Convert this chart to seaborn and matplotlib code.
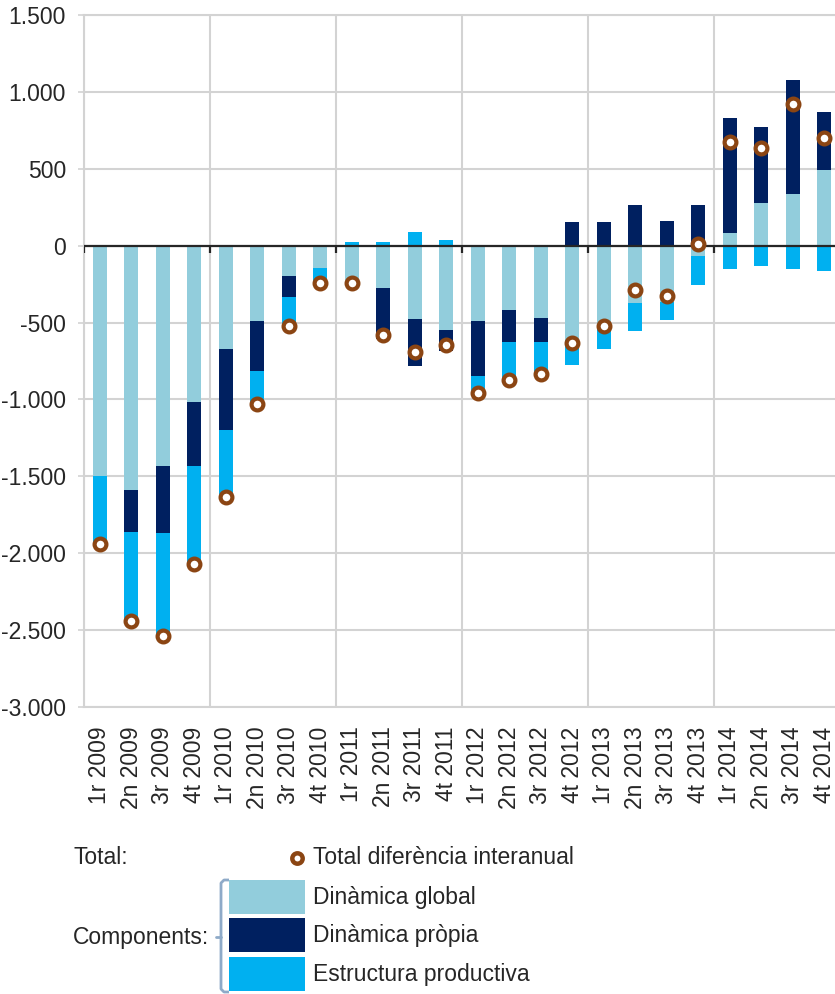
import numpy as np
import pandas as pd
import matplotlib
matplotlib.use("Agg")
import matplotlib.pyplot as plt
from matplotlib.ticker import FuncFormatter, MultipleLocator, FixedLocator
from matplotlib.patches import Rectangle
import seaborn as sns

# Quarter labels (x axis)
quarters = ["1r 2009", "2n 2009", "3r 2009", "4t 2009",
            "1r 2010", "2n 2010", "3r 2010", "4t 2010",
            "1r 2011", "2n 2011", "3r 2011", "4t 2011",
            "1r 2012", "2n 2012", "3r 2012", "4t 2012",
            "1r 2013", "2n 2013", "3r 2013", "4t 2013",
            "1r 2014", "2n 2014", "3r 2014", "4t 2014"]

# Components
dinamica_global = [-1500, -1590, -1430, -1015, -675, -490, -200, -145,
                   -265, -277, -475, -547, -490, -420, -470, -615,
                   -520, -375, -365, -68, 80, 275, 338, 494]
dinamica_propia = [0, -270, -440, -415, -525, -325, -135, 0,
                   0, -330, -305, -140, -355, -205, -155, 155,
                   155, 265, 162, 265, 750, 497, 740, 377]
estructura_productiva = [-437, -580, -670, -640, -435, -215, -190, -95,
                         25, 25, 87, 40, -110, -250, -210, -160,
                         -155, -180, -119, -185, -153, -129, -153, -165]

# Total
total_diferencia = [-1937, -2440, -2540, -2070, -1635, -1030, -525, -240,
                    -240, -582, -693, -647, -955, -874, -835, -630,
                    -520, -290, -330, 12, 674, 638, 919, 700]

series_names = ["Dinàmica global", "Dinàmica pròpia", "Estructura productiva"]
series_colors = ["#92CDDC", "#002060", "#00B0F0"]
total_label = "Total diferència interanual"
total_color = "#8B4513"
grid_color = "#D3D3D3"
text_color = "#262626"
FS = 16.5


def stacked_ends(series_list):
    """Excel-like stacking: positives go up, negatives go down"""
    n = len(series_list[0])
    pos = np.zeros(n)
    neg = np.zeros(n)
    ends = []
    for s in series_list:
        s = np.asarray(s, dtype=float)
        pos = pos + np.where(s > 0, s, 0)
        neg = neg + np.where(s < 0, s, 0)
        ends.append(np.where(s > 0, pos, np.where(s < 0, neg, 0)))
    return ends


sns.set_theme(style="white")
plt.rcParams['font.family'] = ['Liberation Sans', 'DejaVu Sans']

W, H = 835, 994
fig = plt.figure(figsize=(W / 100, H / 100), dpi=100)
ax = fig.add_axes([84 / W, 1 - 707 / H, 756 / W, (707 - 15) / H])

series = [dinamica_global, dinamica_propia, estructura_productiva]
ends = stacked_ends(series)

# draw longest stack first, the later ones paint over the inner segments
for name, color, end in reversed(list(zip(series_names, series_colors, ends))):
    df = pd.DataFrame({"trimestre": quarters, "valor": end})
    sns.barplot(data=df, x="trimestre", y="valor", color=color, saturation=1,
                width=0.43, errorbar=None, linewidth=0, ax=ax, zorder=3)

n = len(quarters)
sns.scatterplot(x=np.arange(n), y=total_diferencia, s=72, color="white",
                edgecolor=total_color, linewidth=3.0, zorder=7, legend=False, ax=ax)

# zero line with small year ticks
year_edges = np.arange(-0.5, n, 4)
ax.axhline(0, color="#262626", lw=1.6, zorder=5)
ax.vlines(year_edges, -45, 0, color="#262626", lw=1.6, zorder=5)

ax.set_xlim(-0.5, n - 0.5)
ax.set_ylim(-3000, 1500)
ax.yaxis.set_major_locator(MultipleLocator(500))
ax.yaxis.set_major_formatter(FuncFormatter(lambda v, p: f"{int(round(v)):,}".replace(",", ".")))
ax.set_xticks(np.arange(n))
ax.set_xticklabels(quarters, rotation=90)
ax.xaxis.set_minor_locator(FixedLocator(year_edges))

ax.set_axisbelow(True)
ax.grid(False)
ax.grid(which="major", axis="y", color=grid_color, lw=1.5)
ax.grid(which="minor", axis="x", color=grid_color, lw=1.5)
ax.set_xlabel("")
ax.set_ylabel("")

ax.tick_params(axis="x", which="both", length=0, pad=14, labelsize=FS, labelcolor=text_color)
ax.tick_params(axis="y", which="major", length=4.5, width=1.2, color=grid_color, pad=8.5,
               labelsize=FS, labelcolor=text_color, left=True)
for side in ["left", "bottom", "top"]:
    ax.spines[side].set_color(grid_color)
    ax.spines[side].set_linewidth(1.5)
ax.spines["right"].set_visible(False)

# custom legend area below the chart (pixel coordinates)
lax = fig.add_axes([0, 0, 1, (H - 840) / H])
lax.set_xlim(0, W)
lax.set_ylim(H, 840)
lax.axis("off")

lax.text(73, 858, "Total:", fontsize=FS, color=text_color, va="center", ha="left")
lax.plot([297], [858], "o", ms=7.5, mfc="white", mec=total_color, mew=3.2)
lax.text(313, 858, total_label, fontsize=FS, color=text_color, va="center", ha="left")

patch_tops = [880, 918, 957]
for top, name, color in zip(patch_tops, series_names, series_colors):
    lax.add_patch(Rectangle((229, top), 76, 34, facecolor=color, edgecolor="none"))
    lax.text(313, top + 18, name, fontsize=FS, color=text_color, va="center", ha="left")

bracket_color = "#8EAAC8"
lax.plot([229, 224, 221, 221, 224, 229], [880, 880, 883, 989, 992, 992],
         color=bracket_color, lw=2, solid_capstyle="butt")
lax.plot([216, 221], [937, 937], color=bracket_color, lw=2)
lax.text(73, 938, "Components:", fontsize=FS, color=text_color, va="center", ha="left")

fig.savefig("out.png", dpi=100)
